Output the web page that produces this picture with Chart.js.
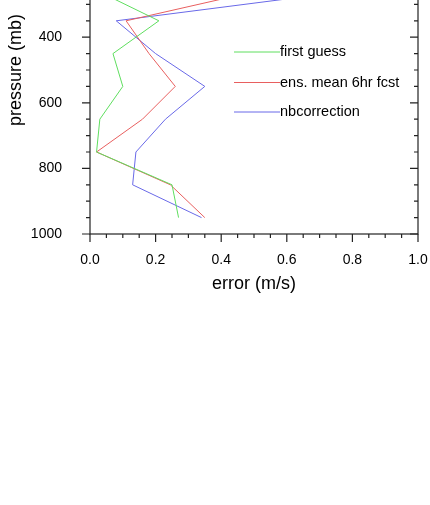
<!DOCTYPE html>
<html>
<head>
<meta charset="utf-8">
<script src="https://cdn.jsdelivr.net/npm/chart.js@4.4.1/dist/chart.umd.min.js"></script>
<style>
  html, body { margin: 0; padding: 0; background: #fff; overflow: hidden; }
  #wrap { position: relative; width: 430px; height: 505px; overflow: hidden; }
  #c { position: absolute; left: 0; top: -130px; }
</style>
</head>
<body>
<div id="wrap"><canvas id="c" width="430" height="635"></canvas></div>
<script>
// ---- data ----
const pressure      = [950, 850, 750, 650, 550, 450, 350, 250];
const firstGuess    = [0.27, 0.25, 0.02, 0.03, 0.10, 0.07, 0.21, 0.005];
const ensMean       = [0.35, 0.245, 0.02, 0.16, 0.26, 0.18, 0.11, 0.55];
const nbCorrection  = [0.34, 0.13, 0.14, 0.23, 0.35, 0.20, 0.08, 0.86];
const seriesNames   = ['first guess', 'ens. mean 6hr fcst', 'nbcorrection'];
const xTickValues   = [0.0, 0.2, 0.4, 0.6, 0.8, 1.0];
const yTickValues   = [0, 200, 400, 600, 800, 1000];
const xTitle = 'error (m/s)';
const yTitle = 'pressure (mb)';

const FONT = '"Liberation Sans", Arial, Helvetica, sans-serif';
const colors = ['rgb(95,222,95)', 'rgb(232,95,95)', 'rgb(105,105,232)'];
const series = [firstGuess, ensMean, nbCorrection];

const datasets = series.map((vals, i) => ({
  label: seriesNames[i],
  data: vals.map((v, k) => ({ x: v, y: pressure[k] })),
  borderColor: colors[i],
  backgroundColor: colors[i],
  borderWidth: 1,
  pointRadius: 0,
  tension: 0,
  fill: false
}));

const decor = {
  id: 'decor',
  afterDraw(chart) {
    const { ctx, chartArea: a, scales: { x, y } } = chart;
    ctx.save();
    ctx.strokeStyle = '#222';
    ctx.lineWidth = 1.2;
    ctx.strokeRect(a.left, a.top, a.right - a.left, a.bottom - a.top);
    ctx.beginPath();
    for (let k = 0; k <= 20; k++) {
      const v = k * 0.05;
      const px = x.getPixelForValue(v);
      const len = (k % 4 === 0) ? 8 : 4;
      ctx.moveTo(px, a.bottom); ctx.lineTo(px, a.bottom + len);
      ctx.moveTo(px, a.top); ctx.lineTo(px, a.top + len);
    }
    for (let k = 0; k <= 20; k++) {
      const p = k * 50;
      const py = y.getPixelForValue(p);
      const len = (k % 4 === 0) ? 8 : 4;
      ctx.moveTo(a.left - len, py); ctx.lineTo(a.left, py);
      ctx.moveTo(a.right - len, py); ctx.lineTo(a.right, py);
    }
    ctx.stroke();
    // legend
    const ly = [52, 82.5, 112].map(v => v + 130);
    chart.data.datasets.forEach((ds, i) => {
      ctx.beginPath();
      ctx.strokeStyle = ds.borderColor;
      ctx.lineWidth = 1;
      ctx.moveTo(234, ly[i]); ctx.lineTo(280, ly[i]);
      ctx.stroke();
      ctx.fillStyle = '#000';
      ctx.font = '14.5px ' + FONT;
      ctx.textBaseline = 'middle';
      ctx.textAlign = 'left';
      ctx.fillText(ds.label, 280, ly[i]);
    });
    ctx.restore();
  }
};

new Chart(document.getElementById('c'), {
  type: 'line',
  data: { datasets },
  options: {
    responsive: false,
    animation: false,
    devicePixelRatio: 1,
    layout: { padding: { top: 36, right: 12, bottom: 0, left: 0 } },
    plugins: { legend: { display: false }, tooltip: { enabled: false } },
    scales: {
      x: {
        type: 'linear',
        min: 0, max: 1,
        grid: { display: false },
        border: { display: false },
        afterBuildTicks: s => { s.ticks = xTickValues.map(v => ({ value: v })); },
        afterFit: s => { s.height = 271; s.paddingLeft = 0; s.paddingRight = 0; },
        ticks: {
          color: '#000',
          padding: 10,
          maxRotation: 0,
          font: { family: FONT, size: 14 },
          callback: v => Number(v).toFixed(1)
        },
        title: {
          display: true, text: xTitle, color: '#000',
          font: { family: FONT, size: 18 },
          padding: { top: 0, bottom: 210.5 }
        }
      },
      y: {
        type: 'linear',
        reverse: true,
        min: 0, max: 1000,
        grid: { display: false },
        border: { display: false },
        afterBuildTicks: s => { s.ticks = yTickValues.map(v => ({ value: v })); },
        afterFit: s => { s.width = 90; s.paddingTop = 0; s.paddingBottom = 0; },
        ticks: {
          color: '#000',
          padding: 20,
          font: { family: FONT, size: 14 },
          callback: v => String(v)
        },
        title: {
          display: true, text: yTitle, color: '#000',
          font: { family: FONT, size: 18 },
          padding: { top: 5, bottom: 0 }
        }
      }
    }
  },
  plugins: [decor]
});
</script>
</body>
</html>
